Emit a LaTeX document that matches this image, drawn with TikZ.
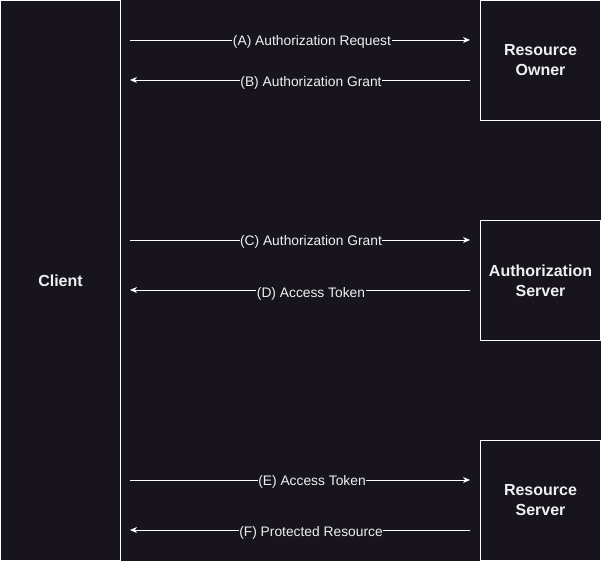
\documentclass[tikz,border=0pt]{standalone}
\usepackage{fontspec}
\setmainfont{Liberation Sans}
\usetikzlibrary{arrows.meta}
\definecolor{bg}{RGB}{24,20,29}
\definecolor{fg}{RGB}{240,240,240}
\begin{document}
\begin{tikzpicture}[x=1pt,y=-1pt,
  box/.style={draw=white,line width=1pt,fill=bg,minimum width=120pt,minimum height=120pt,inner sep=0pt,text=fg,font=\fontsize{16}{20}\selectfont\bfseries,align=center},
  msg/.style={draw=white,line width=0.8pt,-{Stealth[length=7pt,width=6pt]}},
  lab/.style={fill=bg,text=fg,inner sep=0.5pt,font=\fontsize{13.8}{16}\selectfont}]
\fill[bg] (0,0) rectangle (601,561);
\useasboundingbox (0,0) rectangle (601,561);
\node[box,minimum height=560pt,anchor=north west] (client) at (0,0) {Client};
\node[box,anchor=north west] (ro) at (480,0) {Resource\\Owner};
\node[box,anchor=north west] (as) at (480,220) {Authorization\\Server};
\node[box,anchor=north west] (rs) at (480,440) {Resource\\Server};
\coordinate (a1) at (130,40); \coordinate (a2) at (470,40);
\coordinate (b1) at (470,80); \coordinate (b2) at (130,80);
\coordinate (c1) at (130,240); \coordinate (c2) at (470,240);
\coordinate (d1) at (470,290); \coordinate (d2) at (130,290);
\coordinate (e1) at (130,480); \coordinate (e2) at (470,480);
\coordinate (f1) at (470,530); \coordinate (f2) at (130,530);
\draw[msg] (a1) -- (a2);
\draw[msg] (b1) -- (b2);
\draw[msg] (c1) -- (c2);
\draw[msg] (d1) -- (d2);
\draw[msg] (e1) -- (e2);
\draw[msg] (f1) -- (f2);
\node[lab] (la) at (312,42) {(A) Authorization Request};
\node[lab] (lb) at (311,83) {(B) Authorization Grant};
\node[lab] (lc) at (311,242) {(C) Authorization Grant};
\node[lab] (ld) at (311,294) {(D) Access Token};
\node[lab] (le) at (312,482) {(E) Access Token};
\node[lab] (lf) at (311,533) {(F) Protected Resource};
\end{tikzpicture}
\end{document}
